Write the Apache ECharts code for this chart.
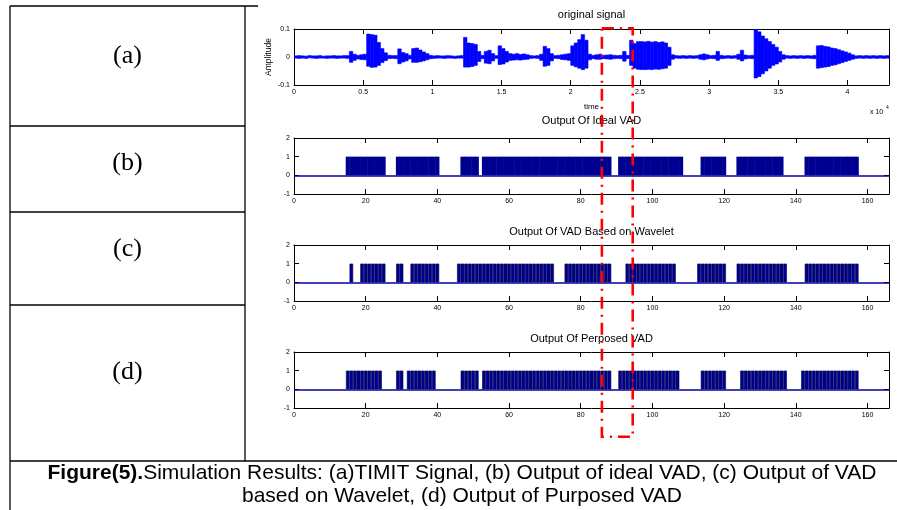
<!DOCTYPE html>
<html>
<head>
<meta charset="utf-8">
<script src="https://cdn.jsdelivr.net/npm/echarts@6/dist/echarts.min.js"></script>
<style>
  html, body { margin: 0; padding: 0; background: #fff; }
  #chart { width: 897px; height: 510px; }
</style>
</head>
<body>
<div id="chart"></div>
<script>
// (a) original signal, read as an envelope: one max / min pair every sigStep samples
const sigStep = 250
const sigTop = [
  0.004, 0.005, 0.004, 0.003, 0.005, 0.004, 0.004, 0.005, 0.003, 0.004,
  0.004, 0.005, 0.004, 0.004, 0.005, 0.005, 0.020, 0.010, 0.006, 0.008,
  0.010, 0.082, 0.080, 0.078, 0.052, 0.030, 0.015, 0.006, 0.005, 0.005,
  0.029, 0.016, 0.012, 0.006, 0.030, 0.032, 0.025, 0.018, 0.012, 0.006,
  0.004, 0.005, 0.004, 0.004, 0.005, 0.004, 0.003, 0.004, 0.005, 0.070,
  0.050, 0.048, 0.045, 0.020, 0.006, 0.020, 0.024, 0.012, 0.005, 0.040,
  0.030, 0.020, 0.012, 0.010, 0.012, 0.009, 0.011, 0.008, 0.005, 0.004,
  0.005, 0.010, 0.038, 0.030, 0.012, 0.005, 0.006, 0.008, 0.010, 0.012,
  0.040, 0.050, 0.062, 0.080, 0.060, 0.010, 0.006, 0.008, 0.010, 0.006,
  0.007, 0.008, 0.006, 0.005, 0.006, 0.020, 0.006, 0.060, 0.048, 0.055,
  0.055, 0.054, 0.056, 0.053, 0.055, 0.052, 0.054, 0.050, 0.035, 0.008,
  0.005, 0.004, 0.005, 0.004, 0.005, 0.004, 0.005, 0.008, 0.011, 0.008,
  0.005, 0.006, 0.020, 0.006, 0.004, 0.005, 0.004, 0.005, 0.010, 0.024,
  0.007, 0.005, 0.006, 0.100, 0.090, 0.075, 0.065, 0.055, 0.045, 0.035,
  0.020, 0.008, 0.005, 0.004, 0.005, 0.004, 0.005, 0.004, 0.005, 0.004,
  0.006, 0.040, 0.041, 0.038, 0.036, 0.032, 0.030, 0.026, 0.022, 0.018,
  0.014, 0.008, 0.004, 0.005, 0.004, 0.005, 0.004, 0.005, 0.004, 0.005,
  0.004, 0.005, 0.004
]
const sigBot = [
  -0.004, -0.005, -0.004, -0.005, -0.003, -0.004, -0.005, -0.004, -0.004, -0.005,
  -0.004, -0.004, -0.005, -0.004, -0.004, -0.005, -0.019, -0.012, -0.007, -0.009,
  -0.010, -0.033, -0.037, -0.036, -0.030, -0.020, -0.013, -0.006, -0.005, -0.006,
  -0.024, -0.018, -0.014, -0.007, -0.019, -0.019, -0.017, -0.014, -0.010, -0.006,
  -0.005, -0.004, -0.004, -0.005, -0.004, -0.004, -0.005, -0.004, -0.004, -0.036,
  -0.036, -0.034, -0.030, -0.016, -0.006, -0.022, -0.024, -0.014, -0.005, -0.027,
  -0.025, -0.018, -0.012, -0.011, -0.010, -0.011, -0.009, -0.008, -0.005, -0.004,
  -0.005, -0.012, -0.033, -0.030, -0.014, -0.005, -0.006, -0.009, -0.010, -0.012,
  -0.030, -0.035, -0.040, -0.045, -0.040, -0.010, -0.006, -0.008, -0.008, -0.006,
  -0.007, -0.008, -0.006, -0.005, -0.006, -0.015, -0.006, -0.030, -0.040, -0.044,
  -0.045, -0.045, -0.044, -0.045, -0.043, -0.044, -0.042, -0.040, -0.030, -0.008,
  -0.004, -0.005, -0.004, -0.005, -0.004, -0.005, -0.004, -0.008, -0.010, -0.007,
  -0.005, -0.006, -0.012, -0.006, -0.005, -0.004, -0.005, -0.004, -0.008, -0.014,
  -0.007, -0.005, -0.006, -0.075, -0.070, -0.060, -0.050, -0.040, -0.030, -0.025,
  -0.018, -0.008, -0.004, -0.005, -0.004, -0.005, -0.004, -0.005, -0.004, -0.005,
  -0.006, -0.040, -0.038, -0.036, -0.034, -0.030, -0.028, -0.024, -0.020, -0.016,
  -0.012, -0.008, -0.005, -0.004, -0.005, -0.004, -0.005, -0.004, -0.005, -0.004,
  -0.005, -0.004, -0.005
]
const sigMax = 43000

// VAD outputs, speech frames as [first, last]
const frameMax = 166
const idealSegs = [[15, 25], [29, 40], [47, 51], [53, 88], [91, 108], [114, 120], [124, 136], [143, 157]]
const waveletSegs = [[16, 16], [19, 25], [29, 30], [33, 40], [46, 72], [76, 88], [93, 106], [113, 120], [124, 137], [143, 157]]
const proposedSegs = [[15, 24], [29, 30], [32, 39], [47, 51], [53, 88], [91, 107], [114, 120], [125, 137], [142, 157]]

// frames inside the red dash-dot box
const markFrames = [85.9, 94.5]

const panelTitles = ['original signal', 'Output Of Ideal VAD', 'Output Of VAD Based on Wavelet', 'Output Of Perposed VAD']
const rowLabels = ['(a)', '(b)', '(c)', '(d)']
const captionBold = 'Figure(5).'
const captionLine1 = 'Simulation Results: (a)TIMIT Signal, (b) Output of ideal VAD, (c) Output of VAD'
const captionLine2 = 'based on Wavelet, (d) Output of Purposed VAD'

// layout
const sans = '"Liberation Sans", Arial, sans-serif'
const serif = '"Liberation Serif", "Times New Roman", serif'
const plotLeft = 294
const plotWidth = 595
const plotHeight = 56
const gridTops = [29, 138, 245, 352]
const titleY = [15, 121, 232, 339]
const rowLabelY = [56, 163, 249, 372]
const rowLines = [126, 212, 305]
const barBlue = '#000090'

const chart = echarts.init(document.getElementById('chart'))

const tickLabel = { fontSize: 7, color: '#000', fontFamily: sans, margin: 4 }
const boxLine = { show: true, onZero: false, lineStyle: { color: '#000', width: 1 } }
const inTick = { show: true, inside: true, length: 5, lineStyle: { color: '#000', width: 1 } }

const makeX = (g, max, interval, fmt, extra) => [
  Object.assign({
    type: 'value', gridIndex: g, position: 'bottom', min: 0, max: max, interval: interval,
    axisLine: boxLine, axisTick: inTick, splitLine: { show: false },
    axisLabel: Object.assign({}, tickLabel, { formatter: fmt })
  }, extra || {}),
  {
    type: 'value', gridIndex: g, position: 'top', min: 0, max: max, interval: interval,
    axisLine: boxLine, axisTick: inTick, splitLine: { show: false }, axisLabel: { show: false }
  }
]
const makeY = (g, min, max, interval, fmt, extra) => [
  Object.assign({
    type: 'value', gridIndex: g, position: 'left', min: min, max: max, interval: interval,
    axisLine: boxLine, axisTick: inTick, splitLine: { show: false },
    axisLabel: Object.assign({}, tickLabel, { formatter: fmt })
  }, extra || {}),
  {
    type: 'value', gridIndex: g, position: 'right', min: min, max: max, interval: interval,
    axisLine: boxLine, axisTick: inTick, splitLine: { show: false }, axisLabel: { show: false }
  }
]

const grids = gridTops.map(t => ({ left: plotLeft, top: t, width: plotWidth, height: plotHeight }))

const frameFmt = v => (v % 20 === 0 ? String(v) : '')
const xAxis = [].concat(
  makeX(0, sigMax, 5000, v => (v % 5000 === 0 ? String(v / 10000) : ''), {
    name: 'time', nameLocation: 'middle', nameGap: 18, nameMoveOverlap: false,
    nameTextStyle: { fontSize: 8, color: '#000', fontFamily: sans }
  }),
  makeX(1, frameMax, 20, frameFmt),
  makeX(2, frameMax, 20, frameFmt),
  makeX(3, frameMax, 20, frameFmt)
)
const vadFmt = v => String(v)
const yAxis = [].concat(
  makeY(0, -0.1, 0.1, 0.1, v => String(+v.toFixed(2)), {
    name: 'Amplitude', nameLocation: 'middle', nameGap: 21, nameMoveOverlap: false,
    nameTextStyle: { fontSize: 8.5, color: '#000', fontFamily: sans }
  }),
  makeY(1, -1, 2, 1, vadFmt),
  makeY(2, -1, 2, 1, vadFmt),
  makeY(3, -1, 2, 1, vadFmt)
)

// signal: one item per step, [start sample, max, min]
const sigData = sigTop.map((t, i) => [i * sigStep, t, sigBot[i]])

const framesOf = segs => {
  const out = []
  segs.forEach(s => {
    for (let f = s[0]; f <= s[1]; f++) out.push([f, 1])
  })
  return out
}

const vadSeries = (g, segs, striped) => ({
  type: 'bar',
  xAxisIndex: 2 * g,
  yAxisIndex: 2 * g,
  data: framesOf(segs),
  barWidth: striped ? '100%' : '115%',
  itemStyle: striped
    ? { color: barBlue, borderColor: '#00004c', borderWidth: 0.6 }
    : { color: barBlue },
  markLine: {
    silent: true,
    symbol: 'none',
    label: { show: false },
    lineStyle: { color: '#0000a0', width: 1.5, type: 'solid' },
    data: [{ yAxis: 0 }]
  }
})

const series = [
  {
    type: 'custom',
    xAxisIndex: 0,
    yAxisIndex: 0,
    data: sigData,
    clip: true,
    encode: { x: 0, y: [1, 2] },
    renderItem: (params, api) => {
      const x0 = api.value(0)
      const x1 = Math.min(x0 + sigStep, sigMax)
      const a = api.coord([x0, api.value(1)])
      const b = api.coord([x1, api.value(2)])
      return {
        type: 'rect',
        shape: { x: a[0], y: a[1], width: b[0] - a[0], height: b[1] - a[1] },
        style: { fill: '#0000ff', stroke: '#0000ff', lineWidth: 0.6 }
      }
    }
  },
  vadSeries(1, idealSegs, false),
  vadSeries(2, waveletSegs, true),
  vadSeries(3, proposedSegs, true)
]

// table frame, labels, titles and caption
const line = (x1, y1, x2, y2) => ({
  type: 'line', silent: true,
  shape: { x1: x1, y1: y1, x2: x2, y2: y2 },
  style: { stroke: '#000', lineWidth: 1.3 }
})
const text = (x, y, str, font, align) => ({
  type: 'text', silent: true, x: x, y: y,
  style: { text: str, font: font, fill: '#000', textAlign: align || 'center', textVerticalAlign: 'middle' }
})

const graphic = [
  line(10, 6, 258, 6),
  line(10, 6, 10, 510),
  line(245, 6, 245, 461),
  line(10, 461, 897, 461)
]
rowLines.forEach(y => graphic.push(line(10, y, 245, y)))
rowLabels.forEach((s, i) => graphic.push(text(127.5, rowLabelY[i], s, '26px ' + serif)))
panelTitles.forEach((s, i) => graphic.push(text(plotLeft + plotWidth / 2, titleY[i], s, '11px ' + sans)))
graphic.push(text(870, 112, 'x 10', '7px ' + sans, 'left'))
graphic.push(text(886, 108, '4', '5px ' + sans, 'left'))
graphic.push({
  type: 'text', silent: true, x: 462, y: 473,
  style: {
    text: '{b|' + captionBold + '}{r|' + captionLine1 + '}',
    textAlign: 'center', textVerticalAlign: 'middle',
    rich: {
      b: { font: 'bold 21px ' + sans, fill: '#000' },
      r: { font: '21px ' + sans, fill: '#000' }
    }
  }
})
graphic.push(text(462, 496, captionLine2, '21px ' + sans))

chart.setOption({
  animation: false,
  backgroundColor: '#fff',
  grid: grids,
  xAxis: xAxis,
  yAxis: yAxis,
  series: series,
  graphic: graphic
})

// red dash-dot box over the frames in markFrames
const bx0 = chart.convertToPixel({ xAxisIndex: 2 }, markFrames[0])
const bx1 = chart.convertToPixel({ xAxisIndex: 2 }, markFrames[1])
chart.setOption({
  graphic: graphic.concat([{
    type: 'rect', silent: true, z: 100,
    shape: { x: bx0, y: 28.3, width: bx1 - bx0, height: 408.4 },
    style: { fill: 'none', stroke: '#ff0000', lineWidth: 2.6, lineDash: [12, 6, 2, 6] }
  }])
})
</script>
</body>
</html>
